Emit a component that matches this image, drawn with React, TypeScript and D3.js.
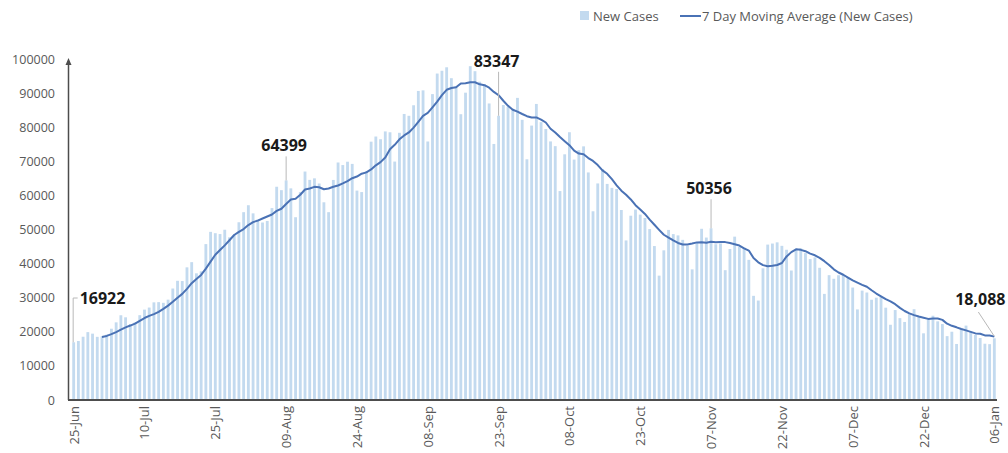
import React from 'react';
import * as d3 from 'd3';

// Daily new cases, 25-Jun (index 0) to 06-Jan (index 195)
const NEW_CASES: number[] = [
  16922, 17296, 18552, 19906, 19459, 18522,
  18653, 19148, 20903, 22771, 24850, 24248, 22252, 22752, 24879, 26506, 27114, 28637, 28701, 28498, 29429,
  32695, 34956, 34884, 38902, 40425, 37148, 37724, 45720, 49310, 48916, 48661, 49931, 47704, 48513, 52123, 55079,
  57118, 54735, 52972, 52050, 52509, 56282, 62538, 61537, 64399, 62064, 53601, 60963, 66999, 64553, 65002, 63490,
  57981, 55079, 64531, 69652, 68898, 69878, 69239, 61408, 60975, 67151, 75760, 77266, 76472, 78761, 78512,
  69921, 78357, 83883, 83341, 86432, 90632, 90802, 75809, 89706, 95735, 96551, 97570, 94372, 92071, 83809, 90123,
  97894, 96424, 93337, 92605, 86961, 75083, 83347, 86508, 86052, 85362, 88600, 82170, 70589, 80472,
  86821, 81484, 79476, 75829, 74442, 61267, 72049, 78524, 70496, 73272, 74383, 66732, 55342, 63509, 67708, 63371,
  62212, 61871, 55722, 46790, 54044, 55839, 54366, 53370, 50129, 45148, 36469, 43893, 49881, 48648, 48268,
  46963, 45231, 38310, 46253, 50209, 47638, 50356, 45674, 45903, 38073, 44281, 47905, 44878, 44684, 41100, 30548,
  29164, 38617, 45576, 45882, 46232, 45209, 44059, 37975, 44376, 44489, 43082, 41322, 41810, 38772,
  31118, 36604, 35551, 36595, 36652, 36011, 32981, 26567, 32080, 31521, 29398, 30006, 30254, 27071, 22065, 26382,
  24010, 22890, 25152, 26624, 24337, 19556, 23950, 24712, 23067, 22273, 18732, 20021, 16432, 20550, 21822,
  20035, 19078, 18177, 16505, 16375, 18088,
];

// 7 day moving average, first value on day index 6 (01-Jul)
const MA_FIRST_DAY = 6;
const MA_7DAY: number[] = [
  18473, 18791, 19306, 19909, 20615, 21299, 21832, 22418, 23236, 24037, 24657, 25198, 25834, 26727, 27681,
  28797, 30004, 31114, 32581, 34256, 35491, 36676, 38537, 40588, 42592, 43986, 45344, 46852, 48394, 49308, 50132,
  51304, 52172, 52606, 53227, 53798, 54392, 55458, 56089, 57470, 58768, 58990, 60198, 61729, 62017, 62512, 62382,
  61798, 62010, 62519, 62898, 63519, 64216, 65037, 65526, 66369, 66743, 67616, 68811, 69753, 71113, 73557,
  74835, 76436, 77596, 78464, 79887, 81583, 83338, 84179, 85801, 87494, 89381, 90972, 91506, 91688, 92831, 92890,
  93199, 93180, 92576, 92323, 91593, 90347, 89379, 87752, 86270, 85131, 84559, 83875, 83233, 82822,
  82867, 82214, 81373, 79549, 78445, 77113, 75910, 74724, 73155, 72268, 72062, 70960, 70114, 68894, 67349, 66331,
  64751, 62964, 61391, 60169, 58817, 57121, 55835, 54572, 52894, 51384, 49909, 48459, 47608, 46791, 46062,
  45610, 45622, 45885, 46222, 46269, 46125, 46423, 46239, 46335, 46301, 46019, 45690, 45296, 44485, 43832, 41638,
  40366, 39557, 39224, 39367, 39588, 40175, 42106, 43364, 44187, 44032, 43632, 42930, 42445, 41689,
  40710, 39600, 38323, 37396, 36729, 35900, 35073, 34423, 33777, 33201, 32173, 31223, 30401, 29557, 28914, 28100,
  27027, 26097, 25403, 24885, 24494, 24136, 23788, 23889, 23914, 23503, 22375, 21759, 21312, 20827, 20414,
  19981, 19524, 19445, 18943, 18935, 18583,
];

const TICK_LABELS = ['25-Jun', '10-Jul', '25-Jul', '09-Aug', '24-Aug', '08-Sep', '23-Sep', '08-Oct', '23-Oct', '07-Nov', '22-Nov', '07-Dec', '22-Dec', '06-Jan'];
const TICK_STEP_DAYS = 15;
const Y_TICKS = [0, 10000, 20000, 30000, 40000, 50000, 60000, 70000, 80000, 90000, 100000];

const CALLOUT_DAYS = [0, 45, 90, 135, 195];
const CALLOUT_TEXTS = ['16922', '64399', '83347', '50356', '18,088'];

const FONT = '"Open Sans", "Noto Sans", sans-serif';
const BAR_COLOR = '#C3DAEF';
const LINE_COLOR = '#4A72B5';
const AXIS_COLOR = '#4d4d4d';
const LABEL_COLOR = '#595959';

export default function App() {
  const W = 1008;
  const H = 453;
  const days = d3.range(NEW_CASES.length);
  const x = d3.scaleBand<number>().domain(days).range([71.3, 996.7]).paddingInner(0.4).paddingOuter(0.2);
  const cx = (i: number) => (x(i) as number) + x.bandwidth() / 2;
  const y = d3.scaleLinear().domain([0, 100000]).range([400, 59]);

  const line = d3.line<number>()
    .x((_, i) => cx(i + MA_FIRST_DAY))
    .y((d) => y(d));

  const callouts = CALLOUT_DAYS.map((day, k) => {
    const bx = cx(day);
    const by = y(NEW_CASES[day]);
    let tx = bx, ty = 0, anchor: 'start' | 'middle' = 'middle', leader = '';
    if (k === 0) {
      tx = bx + 6; ty = 298; anchor = 'start';
      leader = `M${bx + 4},${ty} H${bx - 0.5} V${by}`;
    } else if (k === 4) {
      tx = bx - 14; ty = 299;
      leader = `M${bx - 16},${ty + 13} L${bx},${by - 2}`;
    } else {
      const offs = [0, 35, 55, 40][k];
      ty = by - offs;
      tx = bx - 2;
      leader = `M${bx},${ty + 11} V${by}`;
    }
    return { tx, ty, anchor, leader, text: CALLOUT_TEXTS[k] };
  });

  return (
    <svg width={W} height={H} style={{ position: 'absolute', left: 0, top: 0, background: '#fff' }} fontFamily={FONT}>
      {/* legend */}
      <rect x={580} y={11} width={9} height={9} fill={BAR_COLOR} />
      <text x={593} y={16} dominantBaseline="central" fontSize={13} fill={LABEL_COLOR}>New Cases</text>
      <line x1={680} x2={701} y1={16} y2={16} stroke={LINE_COLOR} strokeWidth={2} />
      <text x={702} y={16} dominantBaseline="central" fontSize={13} fill={LABEL_COLOR}>7 Day Moving Average (New Cases)</text>

      {/* bars */}
      {NEW_CASES.map((v, i) => (
        <rect key={i} x={x(i)} y={y(v)} width={x.bandwidth()} height={y(0) - y(v)} fill={BAR_COLOR} />
      ))}

      {/* moving average */}
      <path d={line(MA_7DAY) || ''} fill="none" stroke={LINE_COLOR} strokeWidth={2} strokeLinejoin="round" />

      {/* axes */}
      <line x1={68.5} x2={68.5} y1={64} y2={400} stroke={AXIS_COLOR} strokeWidth={1.5} />
      <path d="M68.5,58 L65.5,65 L71.5,65 Z" fill={AXIS_COLOR} />
      <line x1={68} x2={997} y1={400} y2={400} stroke={AXIS_COLOR} strokeWidth={2} />

      {Y_TICKS.map((t) => (
        <text key={t} x={55} y={y(t)} textAnchor="end" dominantBaseline="central" fontSize={12.5} fill={LABEL_COLOR}>{t}</text>
      ))}

      {TICK_LABELS.map((lab, k) => {
        const tx = cx(k * TICK_STEP_DAYS);
        return (
          <text key={lab} transform={`translate(${tx},${406}) rotate(-90)`} textAnchor="end" dominantBaseline="central" fontSize={13} fill={LABEL_COLOR}>{lab}</text>
        );
      })}

      {/* callouts */}
      {callouts.map((c, k) => (
        <g key={k}>
          <path d={c.leader} fill="none" stroke="#b8b8b8" strokeWidth={1} />
          <text x={c.tx} y={c.ty} textAnchor={c.anchor} dominantBaseline="central" fontSize={16} fontWeight="bold" fill="#1a1a1a">{c.text}</text>
        </g>
      ))}
    </svg>
  );
}
